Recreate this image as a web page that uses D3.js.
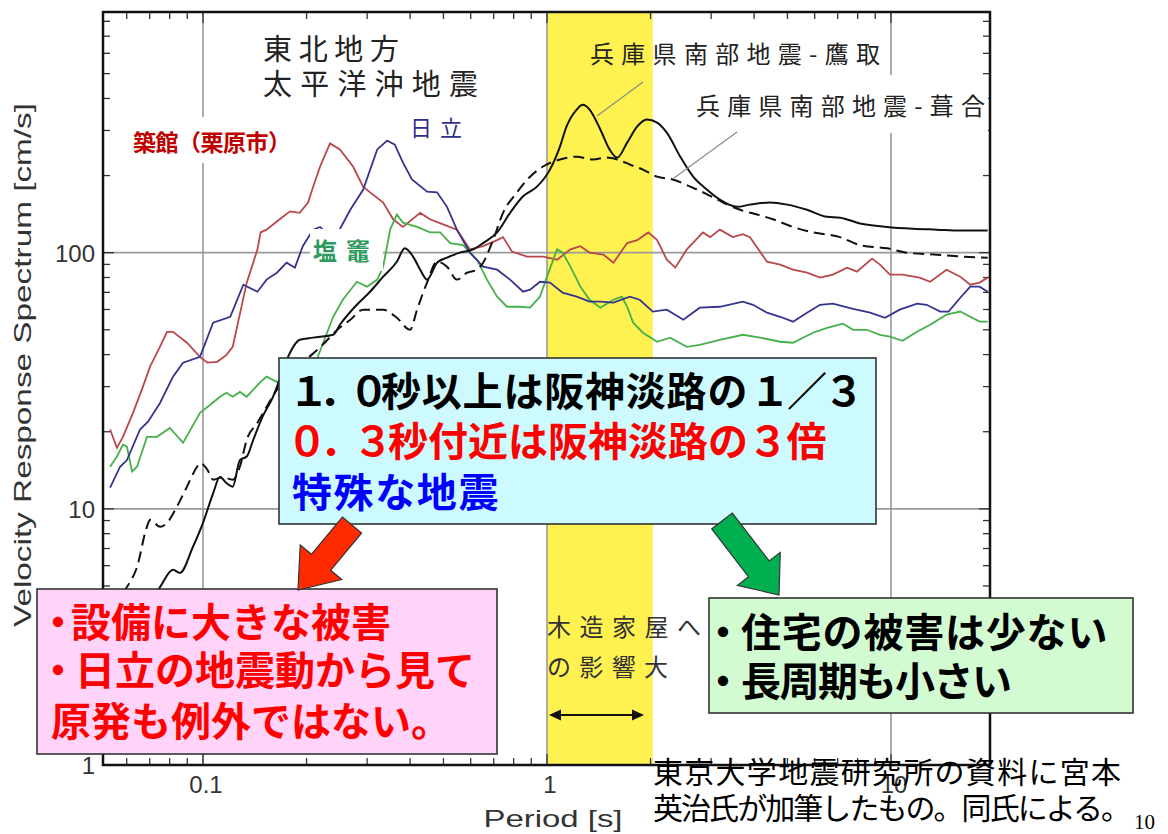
<!DOCTYPE html>
<html><head><meta charset="utf-8">
<script src="https://cdn.jsdelivr.net/npm/d3@7"></script>
<style>html,body{margin:0;padding:0;background:#fff;} svg{display:block}</style>
</head><body>
<svg id="c" width="1168" height="834"></svg>
<script>
// ---- data ----
const periodTicks = [0.1, 1, 10];
const periodTickLabels = ["0.1", "1", "10"];
const velocityTicks = [1, 10, 100];
const velocityTickLabels = ["1", "10", "100"];
const periodDomain = [0.0512, 19.4];
const velocityDomain = [1, 870];
const woodHouseBand = [1, 2.03];

// 築館（栗原市）
const tsukidate = [[0.0537,20.4],[0.0562,17.3],[0.0585,19.1],[0.0626,23.7],[0.0669,30],[0.0702,36],[0.0744,42],[0.0786,49.1],[0.0818,49.1],[0.0898,44.5],[0.098,39.2],[0.103,37.2],[0.110,37.5],[0.117,39.9],[0.122,42.9],[0.134,76.4],[0.144,103],[0.147,120],[0.153,123],[0.167,135],[0.179,145],[0.191,143],[0.202,157],[0.209,181],[0.219,217],[0.234,267],[0.250,253],[0.273,217],[0.292,181],[0.306,172],[0.334,157],[0.357,135],[0.381,126],[0.428,143],[0.457,135],[0.499,129],[0.547,123],[0.597,103],[0.652,106],[0.716,112],[0.745,115],[0.791,101],[0.875,96.5],[0.974,96.5],[1.07,93.9],[1.17,103],[1.25,106],[1.33,100],[1.46,98.2],[1.56,91.4],[1.71,109],[1.83,112],[1.97,120],[2.09,112],[2.23,93.9],[2.36,87.4],[2.55,103],[2.84,120],[2.98,115],[3.18,123],[3.47,115],[3.71,118],[3.89,115],[4.36,92.2],[4.76,89.8],[5.19,85.8],[5.70,83.5],[6.22,79.9],[6.78,82.1],[7.45,87.4],[7.96,84.3],[8.81,94.8],[9.29,89.8],[9.93,82.1],[10.8,82.1],[12.1,79.9],[13.0,77.0],[14.5,85.8],[15.9,80.6],[17.0,75.0],[18.1,76.4],[19.1,79.9]];
// 日立
const hitachi = [[0.0537,12.1],[0.0574,14.6],[0.0601,15.5],[0.0656,20.4],[0.0692,21.9],[0.075,25.9],[0.0818,32.8],[0.0875,37.2],[0.098,39.2],[0.107,53.3],[0.120,56.2],[0.131,75.0],[0.144,70.4],[0.153,78.5],[0.164,83.5],[0.175,91.4],[0.185,87.4],[0.195,106],[0.209,123],[0.219,126],[0.223,123],[0.247,120],[0.268,147],[0.292,176],[0.321,253],[0.343,274],[0.361,264],[0.381,225],[0.405,193],[0.448,173],[0.479,172],[0.512,151],[0.547,123],[0.597,100],[0.652,88.2],[0.716,85.8],[0.781,78.5],[0.852,70.4],[0.893,71.7],[0.954,77.0],[1.02,76.4],[1.11,69.8],[1.22,67.3],[1.33,64.4],[1.43,64.4],[1.56,63.8],[1.74,67.3],[1.86,65.5],[2.03,58.9],[2.23,59.9],[2.49,54.7],[2.78,61.0],[3.18,61.5],[3.71,64.4],[3.97,62.6],[4.36,58.3],[4.76,56.2],[5.19,53.8],[5.70,58.3],[6.22,62.6],[6.78,63.2],[7.76,60.4],[8.69,58.3],[9.61,55.7],[10.6,59.9],[11.9,63.2],[12.7,62.6],[13.9,58.9],[14.7,58.9],[15.9,66.7],[17.0,73.7],[18.1,73.7],[19.1,70.4]];
// 塩竈
const shiogama = [[0.0537,14.6],[0.0562,16.0],[0.0585,17.8],[0.0601,17.5],[0.0622,14.0],[0.0643,14.6],[0.0687,19.1],[0.0735,19.1],[0.0801,20.7],[0.0875,18.1],[0.098,23.7],[0.105,25.5],[0.112,27.4],[0.117,28.4],[0.122,27.4],[0.128,28.6],[0.134,27.4],[0.147,31.3],[0.153,32.8],[0.164,31.3],[0.185,33.5],[0.214,38.2],[0.239,56.2],[0.255,65.5],[0.280,77.0],[0.300,73.7],[0.321,78.5],[0.334,88.2],[0.350,123],[0.366,141],[0.381,131],[0.419,126],[0.457,120],[0.489,120],[0.523,109],[0.570,107],[0.626,93.9],[0.669,78.5],[0.716,67.3],[0.765,61.5],[0.835,61.5],[0.893,61.0],[0.954,67.3],[1.00,80.6],[1.07,103],[1.11,100],[1.17,88.2],[1.25,73.7],[1.33,65.5],[1.43,61.0],[1.56,65.5],[1.65,67.3],[1.71,61.5],[1.78,53.3],[1.90,48.7],[2.09,44.9],[2.28,46.6],[2.55,42.9],[2.78,43.7],[3.18,45.7],[3.71,47.8],[4.16,46.6],[4.76,44.9],[5.19,44.5],[5.93,48.7],[6.52,50.9],[7.25,52.8],[7.76,50.0],[8.51,50.0],[9.29,47.8],[9.93,47.0],[10.8,45.3],[11.9,49.1],[13.0,52.3],[14.5,57.3],[15.9,58.9],[17.0,56.2],[18.1,53.8],[19.1,53.8]];
// 兵庫県南部地震-鷹取 (solid)
const takatori = [[0.055,2.8],[0.065,3.7],[0.075,4.95],[0.0818,5.78],[0.0857,5.62],[0.0935,7.11],[0.100,8.82],[0.107,11.5],[0.112,13.3],[0.117,12.6],[0.122,12.2],[0.128,15.5],[0.134,16.0],[0.140,18.6],[0.149,22.9],[0.160,27.5],[0.167,32],[0.179,40.7],[0.191,45.7],[0.209,46.6],[0.239,47.8],[0.250,52.3],[0.280,62.6],[0.306,70.4],[0.334,80.6],[0.366,92.2],[0.386,104],[0.408,96.5],[0.428,85.8],[0.448,78.5],[0.479,91.4],[0.512,95.6],[0.558,100],[0.610,103],[0.652,109],[0.716,120],[0.781,143],[0.852,166],[0.935,181],[1.02,211],[1.09,259],[1.14,311],[1.22,362],[1.27,378],[1.33,362],[1.43,302],[1.52,253],[1.60,235],[1.71,269],[1.83,311],[1.95,331],[2.09,322],[2.23,294],[2.44,237],[2.66,198],[2.92,176],[3.18,161],[3.57,151],[3.89,154],[4.45,157],[4.99,154],[5.70,147],[6.52,138],[7.11,137],[8.13,130],[9.73,126],[11.6,124],[13.6,123],[15.9,122],[19.1,122]];
// 兵庫県南部地震-葺合 (dashed)
const fukiai = [[0.0545,4.2],[0.0601,4.95],[0.0643,5.93],[0.0687,8.51],[0.0702,9.06],[0.075,8.51],[0.0786,8.82],[0.084,10.2],[0.0898,12.2],[0.0961,14.6],[0.098,15.1],[0.103,14.2],[0.107,13.0],[0.114,13.3],[0.122,13.0],[0.128,14.6],[0.134,18.6],[0.144,21.7],[0.153,25.0],[0.164,29.2],[0.19,36],[0.22,43],[0.250,51],[0.268,54.7],[0.292,59.9],[0.334,59.9],[0.366,55.7],[0.400,50.0],[0.419,59.9],[0.448,76.4],[0.479,92.2],[0.512,88.2],[0.547,78.5],[0.585,83.5],[0.626,85.8],[0.652,91.4],[0.697,112],[0.745,143],[0.818,172],[0.893,198],[0.974,217],[1.09,231],[1.22,237],[1.36,231],[1.49,235],[1.60,231],[1.74,221],[1.90,211],[2.09,198],[2.32,193],[2.61,181],[2.92,169],[3.25,157],[3.64,147],[4.08,141],[4.54,135],[5.19,126],[5.93,120],[7.11,115],[8.13,107],[9.73,104],[11.1,100],[13.6,98.2],[16.2,96.5],[19.1,95.6]];

// ---- drawing ----
const JP = "'Noto Sans CJK JP','Noto Sans',sans-serif";
const LAT = "'Liberation Sans',Arial,sans-serif";
const svg = d3.select("#c");
const x = d3.scaleLog().domain(periodDomain).range([103, 990]);
const y = d3.scaleLog().domain(velocityDomain).range([765, 12]);
const X0 = x(periodDomain[0]), X1 = x(periodDomain[1]), Y0 = y(velocityDomain[1]), Y1 = y(velocityDomain[0]);

svg.append("rect").attr("width",1168).attr("height",834).attr("fill","#fff");
svg.append("defs").append("clipPath").attr("id","plot").append("rect")
  .attr("x",X0).attr("y",Y0).attr("width",X1-X0).attr("height",Y1-Y0);

// band
svg.append("rect").attr("x",x(woodHouseBand[0])).attr("y",Y0)
  .attr("width",x(woodHouseBand[1])-x(woodHouseBand[0])).attr("height",Y1-Y0).attr("fill","#fff250");

// grid
const grid = svg.append("g").attr("stroke","#9a9a9a").attr("stroke-width",1.6);
periodTicks.forEach(t=>grid.append("line").attr("x1",x(t)).attr("x2",x(t)).attr("y1",Y0).attr("y2",Y1));
velocityTicks.filter(t=>t>velocityDomain[0]).forEach(t=>grid.append("line").attr("y1",y(t)).attr("y2",y(t)).attr("x1",X0).attr("x2",X1));

// ticks on all four sides
const tk = svg.append("g").attr("stroke","#333").attr("stroke-width",1.3);
for (let e=-2;e<=1;e++) for (let m=1;m<=9;m++){
  const v=m*Math.pow(10,e); if(v<periodDomain[0]||v>periodDomain[1]) continue;
  const L = m===1?11:7, px=x(v);
  tk.append("line").attr("x1",px).attr("x2",px).attr("y1",Y1).attr("y2",Y1-L);
  tk.append("line").attr("x1",px).attr("x2",px).attr("y1",Y0).attr("y2",Y0+L);
}
for (let e=0;e<=2;e++) for (let m=1;m<=9;m++){
  const v=m*Math.pow(10,e); if(v<velocityDomain[0]||v>velocityDomain[1]) continue;
  const L = m===1?11:7, py=y(v);
  tk.append("line").attr("y1",py).attr("y2",py).attr("x1",X0).attr("x2",X0+L);
  tk.append("line").attr("y1",py).attr("y2",py).attr("x1",X1).attr("x2",X1-L);
}

// series
const line = d3.line().x(d=>x(d[0])).y(d=>y(d[1]));
const smooth = d3.line().x(d=>x(d[0])).y(d=>y(d[1])).curve(d3.curveMonotoneX);
const lines = svg.append("g").attr("clip-path","url(#plot)").attr("fill","none");
lines.append("path").datum(tsukidate).attr("d",line).attr("stroke","#b9474b").attr("stroke-width",1.8);
lines.append("path").datum(shiogama).attr("d",line).attr("stroke","#46b04a").attr("stroke-width",1.8);
lines.append("path").datum(hitachi).attr("d",line).attr("stroke","#34348f").attr("stroke-width",1.8);
lines.append("path").datum(fukiai).attr("d",smooth).attr("stroke","#111").attr("stroke-width",2).attr("stroke-dasharray","11,6");
lines.append("path").datum(takatori).attr("d",smooth).attr("stroke","#111").attr("stroke-width",2);

// label backgrounds
svg.append("rect").attr("x",128).attr("y",117).attr("width",184).attr("height",46).attr("fill","#fff");
svg.append("rect").attr("x",310).attr("y",229).attr("width",73).attr("height",42).attr("fill","#fff");
svg.append("rect").attr("x",688).attr("y",75).attr("width",300).attr("height",58).attr("fill","#fff");

// frame
svg.append("rect").attr("x",X0).attr("y",Y0).attr("width",X1-X0).attr("height",Y1-Y0)
  .attr("fill","none").attr("stroke","#111").attr("stroke-width",2.5);

function txt(s, px, py, size, color, opt={}) {
  const t = svg.append("text").attr("x",px).attr("y",py).text(s)
    .attr("font-family",opt.family||JP).attr("font-size",size).attr("fill",color)
    .attr("font-weight",opt.weight||"normal");
  if (opt.len) t.attr("textLength",opt.len).attr("lengthAdjust",opt.adjust||"spacing");
  if (opt.anchor) t.attr("text-anchor",opt.anchor);
  if (opt.ls!=null) t.attr("letter-spacing",opt.ls);
  return t;
}
// one text element built from positioned pieces: [string, x, letterSpacing]
function pieces(parts, py, size, color, weight) {
  const t = svg.append("text").attr("y",py).attr("font-family",JP).attr("font-size",size)
    .attr("fill",color).attr("font-weight",weight||"bold");
  parts.forEach(p=>t.append("tspan").attr("x",p[1]).attr("letter-spacing",p[2]||0).text(p[0]));
  return t;
}

// in-chart labels
txt("東北地方",263,60,29,"#222",{len:136});
txt("太平洋沖地震",263,95,29,"#222",{len:215});
txt("築館（栗原市）",133,151,23,"#c00000",{weight:"bold",ls:-0.5});
txt("日立",410,136,22,"#30308a",{len:52});
txt("塩竈",313,260,24,"#2e9a5e",{weight:"bold",len:57});
txt("兵庫県南部地震-鷹取",590,63,24,"#222",{len:290});
txt("兵庫県南部地震-葺合",696,115,24,"#222",{len:289});
svg.append("line").attr("x1",643).attr("y1",82).attr("x2",597).attr("y2",116).attr("stroke","#8a8a8a").attr("stroke-width",1.2);
svg.append("line").attr("x1",737).attr("y1",132).attr("x2",674).attr("y2",178).attr("stroke","#8a8a8a").attr("stroke-width",1.2);
txt("木造家屋へ",547,636,24,"#333",{len:154});
txt("の影響大",547,676,24,"#333",{len:121});
svg.append("line").attr("x1",558).attr("x2",635).attr("y1",715).attr("y2",715).attr("stroke","#111").attr("stroke-width",2);
svg.append("path").attr("d","M549,715 L561,709.5 L561,720.5 Z M644,715 L632,709.5 L632,720.5 Z").attr("fill","#111");

// axis text
velocityTicks.forEach((t,i)=>txt(velocityTickLabels[i],95,y(t)+9,24,"#333",{family:LAT,anchor:"end"}));
periodTicks.forEach((t,i)=>txt(periodTickLabels[i],x(t)+3,793,24,"#333",{family:LAT,anchor:"middle"}));
svg.append("text").attr("transform","translate(31,365) rotate(-90)").attr("text-anchor","middle")
  .attr("font-family",LAT).attr("font-size",24).attr("fill","#333")
  .attr("textLength",524).attr("lengthAdjust","spacingAndGlyphs").text("Velocity Response Spectrum [cm/s]");
txt("Period [s]",553,827,24,"#333",{family:LAT,anchor:"middle",len:139,adjust:"spacingAndGlyphs"});

// callout boxes
function box(x0,y0,w,h,fill){
  svg.append("rect").attr("x",x0).attr("y",y0).attr("width",w).attr("height",h)
    .attr("fill",fill).attr("stroke","#333").attr("stroke-width",1.6);
}
box(279,358,597,166,"#ccfaff");
pieces([["１．０",289,-10],["秒以上は阪神淡路の",381,0.8],["１／３",750,-3]],406,40,"#000");
pieces([["０．３",287,-7],["秒付近は阪神淡路の",388,0],["３倍",748,-1.5]],456,40,"#ff0000");
pieces([["特殊な地震",292,1.6]],507,40,"#0000ff");

box(37,589,460,165,"#ffd4f8");
pieces([["・",38,0],["設備に大きな被害",71,0]],637,40,"#ff0000");
pieces([["・",38,0],["日立の地震動から見て",75,0]],685,40,"#ff0000");
pieces([["原発も例外ではない。",51,0]],736,40,"#ff0000");

box(709,598,424,115,"#d2fbd2");
pieces([["・",703,0],["住宅の被害は少ない",741,0.8]],647,40,"#000");
pieces([["・",703,0],["長周期も小さい",741,-1.5]],696,40,"#000");

// arrows
function arrow(S,T,sh,hh,hl,fill){
  const dx=T[0]-S[0], dy=T[1]-S[1], L=Math.hypot(dx,dy), ux=dx/L, uy=dy/L, nx=-uy, ny=ux;
  const B=[T[0]-ux*hl, T[1]-uy*hl];
  const p=[[S[0]+nx*sh,S[1]+ny*sh],[B[0]+nx*sh,B[1]+ny*sh],[B[0]+nx*hh,B[1]+ny*hh],T,
           [B[0]-nx*hh,B[1]-ny*hh],[B[0]-nx*sh,B[1]-ny*sh],[S[0]-nx*sh,S[1]-ny*sh]];
  svg.append("polygon").attr("points",p.map(q=>q.join(",")).join(" "))
    .attr("fill",fill).attr("stroke","#333").attr("stroke-width",1.2);
}
arrow([352,525],[298,590],12.5,27,36,"#ff2a00");
arrow([722,521],[779,595],13,27,33,"#00b050");

// footnote
txt("東京大学地震研究所の資料に宮本",653,783,30,"#000",{len:468});
txt("英治氏が加筆したもの。同氏による。",653,819,30,"#000",{len:478});
txt("10",1134,829,21,"#000",{family:"'Liberation Serif','Times New Roman',serif"});
</script>
</body></html>
